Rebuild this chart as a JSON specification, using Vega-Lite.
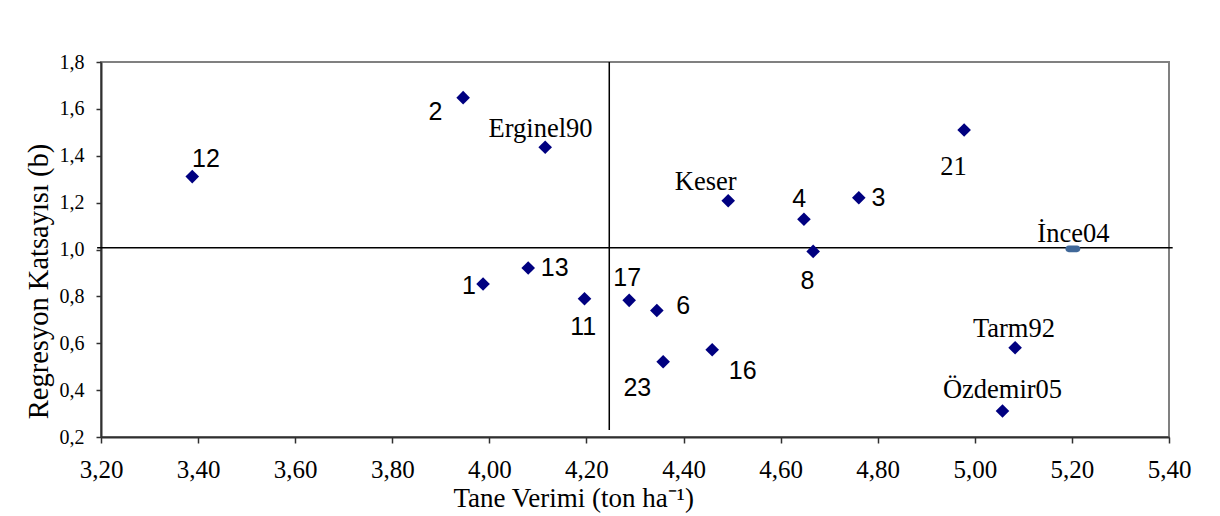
{
  "$schema": "https://vega.github.io/schema/vega-lite/v6.json",
  "autosize": "none",
  "width": 1068,
  "height": 375,
  "padding": {"left": 101, "top": 62, "right": 51, "bottom": 79},
  "background": "white",
  "config": {
    "view": {"stroke": "#808080", "strokeWidth": 2},
    "axis": {"grid": false, "labelFlush": false, "labelOverlap": false, "labelColor": "#000", "titleColor": "#000", "titleFontWeight": "normal", "domainColor": "#303030", "domainWidth": 2, "tickColor": "#303030", "tickWidth": 1.5}
  },
  "data": {"values": [
    {"label": "12", "x": 3.388, "y": 1.311},
    {"label": "2", "x": 3.946, "y": 1.648},
    {"label": "Erginel90", "x": 4.115, "y": 1.436},
    {"label": "1", "x": 3.987, "y": 0.853},
    {"label": "13", "x": 4.080, "y": 0.921},
    {"label": "11", "x": 4.196, "y": 0.790},
    {"label": "17", "x": 4.288, "y": 0.783},
    {"label": "6", "x": 4.345, "y": 0.740},
    {"label": "23", "x": 4.358, "y": 0.521},
    {"label": "16", "x": 4.459, "y": 0.572},
    {"label": "8", "x": 4.667, "y": 0.992},
    {"label": "Keser", "x": 4.492, "y": 1.208},
    {"label": "4", "x": 4.648, "y": 1.129},
    {"label": "3", "x": 4.761, "y": 1.221},
    {"label": "21", "x": 4.978, "y": 1.510},
    {"label": "İnce04", "x": 5.202, "y": 1.003},
    {"label": "Tarm92", "x": 5.083, "y": 0.581},
    {"label": "Özdemir05", "x": 5.057, "y": 0.311}
  ]},
  "encoding": {
    "x": {"field": "x", "type": "quantitative",
      "scale": {"domain": [3.2, 5.4], "nice": false, "zero": false},
      "axis": {"values": [3.2, 3.4, 3.6, 3.8, 4.0, 4.2, 4.4, 4.6, 4.8, 5.0, 5.2, 5.4],
        "labelExpr": "replace(format(datum.value, '.2f'), '.', ',')",
        "labelFont": "Liberation Serif", "labelFontSize": 25, "labelPadding": 14, "tickSize": 6,
        "title": "Tane Verimi (ton ha⁻¹)", "titleFont": "Liberation Serif", "titleFontSize": 27,
        "titleX": 352, "titleY": 69, "titleAlign": "left", "titleAnchor": "start", "titleBaseline": "alphabetic"}},
    "y": {"field": "y", "type": "quantitative",
      "scale": {"domain": [0.2, 1.8], "nice": false, "zero": false},
      "axis": {"values": [0.2, 0.4, 0.6, 0.8, 1.0, 1.2, 1.4, 1.6, 1.8],
        "labelExpr": "replace(format(datum.value, '.1f'), '.', ',')",
        "labelFont": "Liberation Serif", "labelFontSize": 20, "labelPadding": 12, "tickSize": 5,
        "title": "Regresyon Katsayısı (b)", "titleFont": "Liberation Serif", "titleFontSize": 28.5,
        "titleX": -54, "titleY": 219, "titleAlign": "center", "titleBaseline": "alphabetic"}}
  },
  "layer": [
    {"data": {"values": [{"x": 3.192, "x2": 5.4076, "y": 1.008}]},
     "mark": {"type": "rule", "color": "#000", "strokeWidth": 1.5},
     "encoding": {"x2": {"field": "x2"}}},
    {"data": {"values": [{"x": 4.247, "y": 0.23, "y2": 1.8}]},
     "mark": {"type": "rule", "color": "#000", "strokeWidth": 1.5},
     "encoding": {"y2": {"field": "y2"}}},
    {"transform": [{"filter": "datum.label !== 'İnce04'"}],
     "mark": {"type": "point", "shape": "diamond", "filled": true, "color": "#000080", "size": 185, "opacity": 1}},
    {"transform": [{"filter": "datum.label === 'İnce04'"}],
     "mark": {"type": "point", "shape": "M-0.55,-0.45 L0.55,-0.45 A0.45,0.45 0 0 1 0.55,0.45 L-0.55,0.45 A0.45,0.45 0 0 1 -0.55,-0.45 Z", "filled": true, "color": "#406899", "size": 225, "opacity": 1}},
    {"transform": [{"filter": "datum.label === '12'"}], "mark": {"type": "text", "font": "Liberation Sans", "fontSize": 25, "align": "center", "baseline": "alphabetic", "dx": 13.7, "dy": -9.2}, "encoding": {"text": {"field": "label"}}},
    {"transform": [{"filter": "datum.label === '2'"}], "mark": {"type": "text", "font": "Liberation Sans", "fontSize": 25, "align": "center", "baseline": "alphabetic", "dx": -27.8, "dy": 22.6}, "encoding": {"text": {"field": "label"}}},
    {"transform": [{"filter": "datum.label === '1'"}], "mark": {"type": "text", "font": "Liberation Sans", "fontSize": 25, "align": "center", "baseline": "alphabetic", "dx": -14, "dy": 10}, "encoding": {"text": {"field": "label"}}},
    {"transform": [{"filter": "datum.label === '13'"}], "mark": {"type": "text", "font": "Liberation Sans", "fontSize": 25, "align": "center", "baseline": "alphabetic", "dx": 26.5, "dy": 8}, "encoding": {"text": {"field": "label"}}},
    {"transform": [{"filter": "datum.label === '11'"}], "mark": {"type": "text", "font": "Liberation Sans", "fontSize": 25, "align": "center", "baseline": "alphabetic", "dx": -1.3, "dy": 36.5}, "encoding": {"text": {"field": "label"}}},
    {"transform": [{"filter": "datum.label === '17'"}], "mark": {"type": "text", "font": "Liberation Sans", "fontSize": 25, "align": "center", "baseline": "alphabetic", "dx": -2, "dy": -14.6}, "encoding": {"text": {"field": "label"}}},
    {"transform": [{"filter": "datum.label === '6'"}], "mark": {"type": "text", "font": "Liberation Sans", "fontSize": 25, "align": "center", "baseline": "alphabetic", "dx": 26.3, "dy": 3.7}, "encoding": {"text": {"field": "label"}}},
    {"transform": [{"filter": "datum.label === '23'"}], "mark": {"type": "text", "font": "Liberation Sans", "fontSize": 25, "align": "center", "baseline": "alphabetic", "dx": -25.8, "dy": 34}, "encoding": {"text": {"field": "label"}}},
    {"transform": [{"filter": "datum.label === '16'"}], "mark": {"type": "text", "font": "Liberation Sans", "fontSize": 25, "align": "center", "baseline": "alphabetic", "dx": 30.5, "dy": 29.5}, "encoding": {"text": {"field": "label"}}},
    {"transform": [{"filter": "datum.label === '8'"}], "mark": {"type": "text", "font": "Liberation Sans", "fontSize": 25, "align": "center", "baseline": "alphabetic", "dx": -5.7, "dy": 37.2}, "encoding": {"text": {"field": "label"}}},
    {"transform": [{"filter": "datum.label === '4'"}], "mark": {"type": "text", "font": "Liberation Sans", "fontSize": 25, "align": "center", "baseline": "alphabetic", "dx": -4.7, "dy": -12.6}, "encoding": {"text": {"field": "label"}}},
    {"transform": [{"filter": "datum.label === '3'"}], "mark": {"type": "text", "font": "Liberation Sans", "fontSize": 25, "align": "center", "baseline": "alphabetic", "dx": 19.6, "dy": 8.5}, "encoding": {"text": {"field": "label"}}},
    {"transform": [{"filter": "datum.label === 'Erginel90'"}], "mark": {"type": "text", "font": "Liberation Serif", "fontSize": 26.5, "align": "center", "baseline": "alphabetic", "dx": -4.6, "dy": -10}, "encoding": {"text": {"field": "label"}}},
    {"transform": [{"filter": "datum.label === 'Keser'"}], "mark": {"type": "text", "font": "Liberation Serif", "fontSize": 26.5, "align": "center", "baseline": "alphabetic", "dx": -22.5, "dy": -10.7}, "encoding": {"text": {"field": "label"}}},
    {"transform": [{"filter": "datum.label === '21'"}], "mark": {"type": "text", "font": "Liberation Serif", "fontSize": 26.5, "align": "center", "baseline": "alphabetic", "dx": -10.7, "dy": 44.6}, "encoding": {"text": {"field": "label"}}},
    {"transform": [{"filter": "datum.label === 'İnce04'"}], "mark": {"type": "text", "font": "Liberation Serif", "fontSize": 26.5, "align": "center", "baseline": "alphabetic", "dx": 0.5, "dy": -7}, "encoding": {"text": {"field": "label"}}},
    {"transform": [{"filter": "datum.label === 'Tarm92'"}], "mark": {"type": "text", "font": "Liberation Serif", "fontSize": 26.5, "align": "center", "baseline": "alphabetic", "dx": -1.2, "dy": -11}, "encoding": {"text": {"field": "label"}}},
    {"transform": [{"filter": "datum.label === 'Özdemir05'"}], "mark": {"type": "text", "font": "Liberation Serif", "fontSize": 26.5, "align": "center", "baseline": "alphabetic", "dx": 0, "dy": -12.7}, "encoding": {"text": {"field": "label"}}}
  ]
}
